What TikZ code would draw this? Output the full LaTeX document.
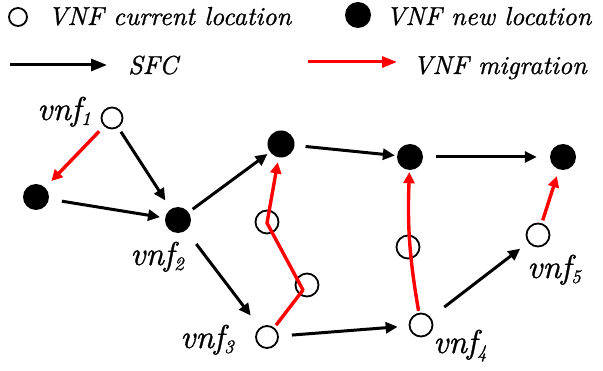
\documentclass[tikz,border=0pt]{standalone}
\usepackage{fontspec}
\newfontfamily\tnri{lmroman10-italic.otf}[FakeBold=0.9]
\usetikzlibrary{arrows.meta}
\newcommand\vnflab[1]{\fontsize{33}{36}\selectfont\tnri vnf\raisebox{-5pt}{\fontsize{19}{20}\selectfont #1}}
\tikzset{
  opn/.style={circle, draw=black, line width=1.8pt, fill=white, inner sep=0pt, minimum size=#1},
  opn/.default=22,
  fil/.style={circle, fill=black, inner sep=0pt, minimum size=#1},
  fil/.default=26,
  sfc/.style={line width=3pt, line cap=butt, -{Triangle[length=12pt,width=11pt]}},
  mig/.style={red, line width=3.4pt, line join=round, -{Triangle[length=11pt,width=11pt]}},
  txt/.style={anchor=base west, inner sep=0pt, font=\fontsize{26}{28}\selectfont\tnri},
  lab/.style={anchor=base west, inner sep=0pt},
}
\begin{document}
\begin{tikzpicture}[x=1pt,y=-1pt]
\useasboundingbox (0,0) rectangle (603,371);
% legend
\node[opn=18] (lo) at (18,17) {};
\node[txt] (lt1) at (48,25) {VNF current location};
\node[fil=26] (lf) at (358,15) {};
\node[txt] (lt2) at (386,25) {VNF new location};
\coordinate (la1) at (10,65);
\coordinate (la2) at (107,65);
\draw[line width=3pt, -{Triangle[length=16pt,width=12pt]}] (la1) -- (la2);
\node[txt] (lt3) at (128,74) {SFC};
\coordinate (lr1) at (308,62);
\coordinate (lr2) at (397,62);
\draw[red, line width=3pt, -{Triangle[length=15pt,width=11pt]}] (lr1) -- (lr2);
\node[txt] (lt4) at (413,74) {VNF migration};
% graph nodes
\node[opn=21] (v1) at (112,118) {};
\node[fil=26] (f1) at (36,197) {};
\node[fil=26] (v2) at (178,220) {};
\node[opn=22] (v3) at (267,337) {};
\node[fil=27] (ft) at (281,144) {};
\node[opn=23] (o1) at (267,222) {};
\node[opn=23] (o2) at (307,285) {};
\node[fil=26] (fm) at (410,157) {};
\node[fil=26] (fr) at (563,157) {};
\node[opn=23] (o3) at (408,247) {};
\node[opn=23] (v4) at (421,325) {};
\node[opn=23] (v5) at (538,235) {};
% labels
\node[lab] (l1) at (37,120) {\vnflab{1}};
\node[lab] (l2) at (130,265) {\vnflab{2}};
\node[lab] (l3) at (180,348) {\vnflab{3}};
\node[lab] (l4) at (433,353) {\vnflab{4}};
\node[lab] (l5) at (527,278) {\vnflab{5}};
% SFC edges
\draw[sfc, shorten <=5pt, shorten >=10pt] (v1) -- (v2);
\draw[sfc, shorten <=13pt, shorten >=5pt] (f1) -- (v2);
\draw[sfc, shorten <=5pt, shorten >=3pt] (v2) -- (ft);
\draw[sfc, shorten <=17pt, shorten >=15pt] (v2) -- (v3);
\draw[sfc, shorten <=11pt, shorten >=2pt] (ft) -- (fm);
\draw[sfc, shorten <=13pt, shorten >=13pt] (fm) -- (fr);
\draw[sfc, shorten <=13pt, shorten >=11pt] (v3) -- (v4);
\draw[sfc, shorten <=17pt, shorten >=10pt] (v4) -- (v5);
% migrations
\coordinate (k1) at (303,290);
\coordinate (k2) at (267,223);
\draw[mig, shorten <=7pt, shorten >=9pt] (v1) -- (f1);
\draw[mig, shorten <=3pt, shorten >=5pt] (v3) -- (k1) -- (k2) -- (ft);
\draw[mig, shorten <=2pt, shorten >=2pt] (v4) to[bend left=6] (fm);
\draw[mig, shorten <=3pt, shorten >=7pt] (v5) -- (fr);
\end{tikzpicture}
\end{document}
